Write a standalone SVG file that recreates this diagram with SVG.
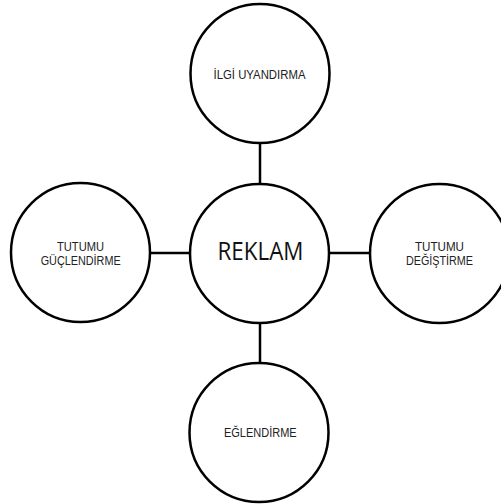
<svg xmlns="http://www.w3.org/2000/svg" width="501" height="504" viewBox="0 0 501 504">
<style>
.node circle{fill:#fff;stroke:#000;stroke-width:2.5}
.lbl{font-family:"Liberation Sans",Arial,sans-serif;font-size:12px;fill:#222;text-anchor:middle}
.big{font-family:"Open Sans","Liberation Sans",sans-serif;font-size:25px;fill:#111;text-anchor:middle}
#connectors line{stroke:#000;stroke-width:2.5}
</style>
<rect width="501" height="504" fill="#fff"/>
<g id="connectors">
<line x1="260" y1="142" x2="260" y2="185"/>
<line x1="260" y1="322" x2="260" y2="364"/>
<line x1="149" y1="253" x2="191" y2="253"/>
<line x1="328" y1="253" x2="371" y2="253"/>
</g>
<g id="reklam" class="node">
<circle cx="259.5" cy="253.5" r="69.5"/>
<text class="big" x="260.5" y="260" textLength="86" lengthAdjust="spacingAndGlyphs">REKLAM</text>
</g>
<g id="ilgi" class="node">
<circle cx="260" cy="73.5" r="69.5"/>
<text class="lbl" x="259.5" y="79" textLength="92" lengthAdjust="spacingAndGlyphs">İLGİ UYANDIRMA</text>
</g>
<g id="guclendirme" class="node">
<circle cx="80.5" cy="252.5" r="69.5"/>
<text class="lbl" x="80.5" y="250.5" textLength="47" lengthAdjust="spacingAndGlyphs">TUTUMU</text>
<text class="lbl" x="80.7" y="265" textLength="80" lengthAdjust="spacingAndGlyphs">GÜÇLENDİRME</text>
</g>
<g id="degistirme" class="node">
<circle cx="439.5" cy="253.5" r="69.5"/>
<text class="lbl" x="439.5" y="250.5" textLength="49" lengthAdjust="spacingAndGlyphs">TUTUMU</text>
<text class="lbl" x="439.5" y="265" textLength="67" lengthAdjust="spacingAndGlyphs">DEĞİŞTİRME</text>
</g>
<g id="eglendirme" class="node">
<circle cx="259" cy="432.5" r="69.5"/>
<text class="lbl" x="260.3" y="437" textLength="72.7" lengthAdjust="spacingAndGlyphs">EĞLENDİRME</text>
</g>
</svg>
